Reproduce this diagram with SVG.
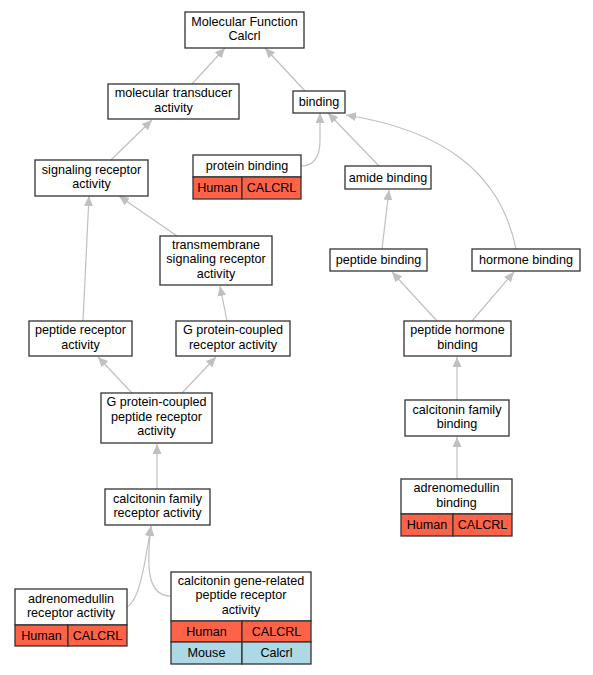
<svg xmlns="http://www.w3.org/2000/svg" width="593" height="675" viewBox="0 0 593 675">
<defs>
<style>
.n{fill:#fff;stroke:#333;stroke-width:1.3}
.r{fill:#ff6347;stroke:#333;stroke-width:1.3}
.b{fill:#add8e6;stroke:#333;stroke-width:1.3}
text{font-family:"Liberation Sans",Arial,sans-serif;font-size:12.6px;fill:#000;text-anchor:middle}
.e{fill:none;stroke:#c0c0c0;stroke-width:1.2;marker-end:url(#a)}
</style>
<marker id="a" markerUnits="userSpaceOnUse" markerWidth="11" markerHeight="9" refX="10" refY="4.5" orient="auto"><path d="M0,0 L10,4.5 L0,9 z" fill="#c0c0c0"/></marker>
</defs>
<rect width="593" height="675" fill="#fff"/>
<g id="edges">
<path class="e" d="M192,84 L225,48"/>
<path class="e" d="M305,91 L265,48"/>
<path class="e" d="M111,160 L152,120"/>
<path class="e" d="M301,166 C317,166 320,152 320,140 L320,113"/>
<path class="e" d="M379,166 L328,113"/>
<path class="e" d="M516,249 C500,170 440,130 346,115"/>
<path class="e" d="M382,249 L389,190"/>
<path class="e" d="M177,236 L119,196"/>
<path class="e" d="M83,321 L89,196"/>
<path class="e" d="M227,321 L220,286"/>
<path class="e" d="M437,321 L392,272"/>
<path class="e" d="M472,321 L514,272"/>
<path class="e" d="M132,393 L98,357"/>
<path class="e" d="M182,393 L216,357"/>
<path class="e" d="M457,400 L457,357"/>
<path class="e" d="M157,489 L157,444"/>
<path class="e" d="M457,479 L457,437"/>
<path class="e" d="M127,607 C140,600 145,562 151,526"/>
<path class="e" d="M171,596 C148,596 146,570 151,526"/>
</g>
<g id="mf"><rect class="n" x="185" y="12" width="119" height="36"/><text x="244.5" y="25.6">Molecular Function</text><text x="244.5" y="40.1">Calcrl</text></g>
<g id="mta"><rect class="n" x="108" y="84" width="131" height="35"/><text x="173.5" y="97">molecular transducer</text><text x="173.5" y="111.5">activity</text></g>
<g id="binding"><rect class="n" x="293" y="91" width="52" height="22"/><text x="319" y="106">binding</text></g>
<g id="sra"><rect class="n" x="35" y="160" width="113" height="36"/><text x="91.5" y="173.6">signaling receptor</text><text x="91.5" y="188.1">activity</text></g>
<g id="pb"><rect class="n" x="193" y="155" width="108" height="22"/><text x="247" y="170">protein binding</text><rect class="r" x="193" y="177" width="49" height="22"/><rect class="r" x="242" y="177" width="59" height="22"/><text x="217.5" y="192">Human</text><text x="271.5" y="192">CALCRL</text></g>
<g id="amide"><rect class="n" x="345" y="166" width="86" height="23"/><text x="388" y="181.5">amide binding</text></g>
<g id="tsra"><rect class="n" x="160" y="236" width="112" height="49"/><text x="216" y="248.8">transmembrane</text><text x="216" y="263.3">signaling receptor</text><text x="216" y="277.8">activity</text></g>
<g id="pepb"><rect class="n" x="330" y="249" width="97" height="22"/><text x="378.5" y="264">peptide binding</text></g>
<g id="hb"><rect class="n" x="472" y="249" width="108" height="22"/><text x="526" y="264">hormone binding</text></g>
<g id="pra"><rect class="n" x="29" y="321" width="103" height="35"/><text x="80.5" y="334">peptide receptor</text><text x="80.5" y="348.5">activity</text></g>
<g id="gpcr"><rect class="n" x="176" y="321" width="114" height="35"/><text x="233" y="334">G protein-coupled</text><text x="233" y="348.5">receptor activity</text></g>
<g id="phb"><rect class="n" x="404" y="321" width="107" height="35"/><text x="457.5" y="334">peptide hormone</text><text x="457.5" y="348.5">binding</text></g>
<g id="gpcpr"><rect class="n" x="101" y="393" width="111" height="50"/><text x="156.5" y="406.3">G protein-coupled</text><text x="156.5" y="420.8">peptide receptor</text><text x="156.5" y="435.3">activity</text></g>
<g id="cfb"><rect class="n" x="405" y="400" width="104" height="36"/><text x="457" y="413.5">calcitonin family</text><text x="457" y="428">binding</text></g>
<g id="cfra"><rect class="n" x="105" y="489" width="105" height="36"/><text x="157.5" y="502.5">calcitonin family</text><text x="157.5" y="517">receptor activity</text></g>
<g id="amb"><rect class="n" x="401" y="479" width="111" height="35"/><text x="456.5" y="492">adrenomedullin</text><text x="456.5" y="506.5">binding</text><rect class="r" x="401" y="514" width="52" height="22"/><rect class="r" x="453" y="514" width="59" height="22"/><text x="427" y="529">Human</text><text x="482.5" y="529">CALCRL</text></g>
<g id="amra"><rect class="n" x="15" y="589" width="112" height="36"/><text x="71" y="602.5">adrenomedullin</text><text x="71" y="617">receptor activity</text><rect class="r" x="15" y="625" width="53" height="21"/><rect class="r" x="68" y="625" width="59" height="21"/><text x="41.5" y="639.5">Human</text><text x="97.5" y="639.5">CALCRL</text></g>
<g id="cgrp"><rect class="n" x="171" y="572" width="140" height="49"/><text x="241" y="584.8">calcitonin gene-related</text><text x="241" y="599.3">peptide receptor</text><text x="241" y="613.8">activity</text><rect class="r" x="171" y="621" width="71" height="21"/><rect class="r" x="242" y="621" width="69" height="21"/><text x="206.5" y="635.5">Human</text><text x="276.5" y="635.5">CALCRL</text><rect class="b" x="171" y="642" width="71" height="22"/><rect class="b" x="242" y="642" width="69" height="22"/><text x="206.5" y="657">Mouse</text><text x="276.5" y="657">Calcrl</text></g>
</svg>
